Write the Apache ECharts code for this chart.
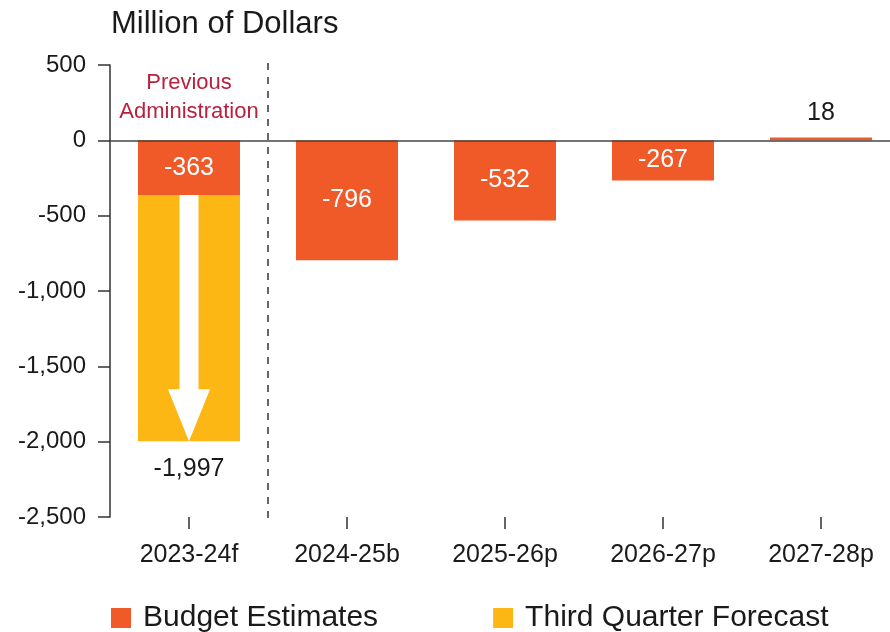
<!DOCTYPE html>
<html>
<head>
<meta charset="utf-8">
<script src="https://cdn.jsdelivr.net/npm/echarts@6/dist/echarts.min.js"></script>
<style>
  html, body { margin: 0; padding: 0; background: #ffffff; }
  #chart { width: 890px; height: 632px; }
</style>
</head>
<body>
<div id="chart"></div>
<script>
// Fiscal years and balances, million of dollars
const categories = ['2023-24f', '2024-25b', '2025-26p', '2026-27p', '2027-28p'];
const budgetEstimates = [-363, -796, -532, -267, 18];
const thirdQuarterForecast = [-1997, null, null, null, null];

// Revision arrow: [category index, budget estimate, third quarter forecast]
const revisionArrow = [[0, -363, -1997]];

// Divider between the previous administration's year and the plan years
const periodBoundary = [[0.5]];
const noteText = 'Previous\nAdministration';
const notePoint = [0, 282];

// Value axis ticks
const yMin = -2500;
const yMax = 500;
const yStep = 500;

const seriesNames = ['Budget Estimates', 'Third Quarter Forecast'];
const ORANGE = '#EF5A28';
const YELLOW = '#FDB714';
const FONT = '"Liberation Sans", Arial, sans-serif';
const INK = '#1a1a1a';

const chart = echarts.init(document.getElementById('chart'), null, { renderer: 'canvas' });

const fmt = v => v.toLocaleString('en-US');

chart.setOption({
  animation: false,
  backgroundColor: '#ffffff',
  textStyle: { fontFamily: FONT },
  title: {
    text: 'Million of Dollars',
    left: 106,
    top: 4,
    textStyle: { fontFamily: FONT, fontSize: 31, fontWeight: 'normal', color: INK }
  },
  legend: {
    data: seriesNames,
    left: 106,
    top: 598,
    itemWidth: 20,
    itemHeight: 20,
    itemGap: 115,
    icon: 'rect',
    textStyle: { fontFamily: FONT, fontSize: 30, color: INK, padding: [0, 0, 0, 7] }
  },
  grid: {
    left: 110, width: 790, top: 65, bottom: 115,
    containLabel: false,
    outerBoundsMode: 'none'
  },
  xAxis: [
    {
      type: 'category',
      data: categories,
      position: 'bottom',
      axisLine: { show: false, onZero: false },
      axisTick: { show: true, alignWithLabel: true, length: 12, lineStyle: { color: '#333', width: 1.5 } },
      axisLabel: { color: INK, fontSize: 25, fontFamily: FONT, margin: 26 },
      splitLine: { show: false }
    },
    {
      type: 'value',
      min: -0.5,
      max: categories.length - 0.5,
      show: false
    }
  ],
  yAxis: {
    type: 'value',
    min: yMin,
    max: yMax,
    interval: yStep,
    axisLine: { show: true, onZero: false, lineStyle: { color: '#333', width: 1.5 } },
    axisTick: { show: true, length: 12, lineStyle: { color: '#333', width: 1.5 } },
    axisLabel: { color: INK, fontSize: 24, fontFamily: FONT, margin: 24, formatter: v => fmt(v) },
    splitLine: { show: false }
  },
  series: [
    {
      name: 'Third Quarter Forecast',
      type: 'bar',
      data: thirdQuarterForecast,
      barWidth: 102,
      barGap: '-100%',
      itemStyle: { color: YELLOW },
      z: 2,
      label: {
        show: true,
        position: 'outside',
        distance: 15,
        color: INK,
        fontSize: 25,
        fontFamily: FONT,
        formatter: p => fmt(p.value)
      },
      markPoint: {
        symbol: 'circle',
        symbolSize: 0,
        silent: true,
        data: [{ coord: notePoint, value: 0 }],
        label: {
          show: true,
          position: 'inside',
          formatter: noteText,
          color: '#B8213F',
          fontSize: 22,
          lineHeight: 29,
          fontFamily: FONT
        }
      }
    },
    {
      name: 'Budget Estimates',
      type: 'bar',
      data: budgetEstimates.map(v => ({
        value: v,
        label: v >= 0
          ? { position: 'outside', distance: 12, color: INK }
          : { position: 'inside', color: '#ffffff' }
      })),
      barWidth: 102,
      barGap: '-100%',
      itemStyle: { color: ORANGE },
      z: 3,
      label: {
        show: true,
        fontSize: 25,
        fontFamily: FONT,
        formatter: p => fmt(p.value)
      },
      markLine: {
        silent: true,
        symbol: 'none',
        label: { show: false },
        lineStyle: { color: '#444', width: 1.5, type: 'solid' },
        data: [{ yAxis: 0 }]
      }
    },
    {
      name: 'revision',
      type: 'custom',
      xAxisIndex: 0,
      data: revisionArrow,
      encode: { x: 0, y: [1, 2] },
      z: 5,
      silent: true,
      renderItem(params, api) {
        const top = api.coord([api.value(0), api.value(1)]);
        const tip = api.coord([api.value(0), api.value(2)]);
        const x = top[0];
        const shaft = 9.5, head = 21, headLen = 52;
        const neck = tip[1] - headLen;
        return {
          type: 'polygon',
          shape: {
            points: [
              [x - shaft, top[1]], [x + shaft, top[1]], [x + shaft, neck],
              [x + head, neck], [x, tip[1]], [x - head, neck], [x - shaft, neck]
            ]
          },
          style: { fill: '#ffffff' }
        };
      }
    },
    {
      name: 'divider',
      type: 'custom',
      xAxisIndex: 1,
      data: periodBoundary,
      encode: { x: 0 },
      z: 1,
      silent: true,
      renderItem(params, api) {
        const cs = params.coordSys;
        const x = api.coord([api.value(0), 0])[0];
        return {
          type: 'line',
          shape: { x1: x, y1: cs.y - 2, x2: x, y2: cs.y + cs.height + 3 },
          style: { stroke: '#333', lineWidth: 1.5, lineDash: [7, 7] }
        };
      }
    }
  ]
});
</script>
</body>
</html>
